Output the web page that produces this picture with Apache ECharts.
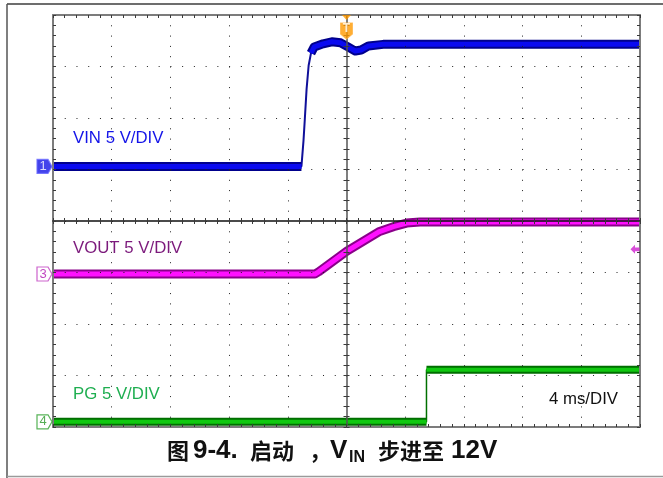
<!DOCTYPE html>
<html><head><meta charset="utf-8">
<script src="https://cdn.jsdelivr.net/npm/echarts@6/dist/echarts.min.js"></script>
<style>html,body{margin:0;padding:0;background:#fff}#c{width:663px;height:478px}</style>
</head><body><div id="c"></div>
<script>
// ---- scope settings ----
const voltsPerDiv = 5;
const timeRangeMs = [-20, 20];   // 4 ms/DIV, 10 divisions
const divRange = [-4, 4];        // 8 vertical divisions
// channel ground positions (divisions from screen centre)
const ch1Pos = 1.06;   // VIN
const ch3Pos = -1.03;  // VOUT
const ch4Pos = -3.90;  // PG
const ch3TriggerLevelV = 2.4;

// ---- traces (time in ms, value in volts) ----
const vinTimeMs = [-20, -3.07, -2.93, -2.84, -2.72, -2.58, -2.42, -2.2, -1.6, -1.0, -0.4, 0.1, 0.6, 1.0, 1.5, 2.5, 20];
const vinVolts  = [0, 0, 2.5, 4.6, 7.5, 9.8, 11.0, 11.6, 11.9, 12.1, 12.0, 11.6, 11.2, 11.3, 11.7, 11.85, 11.85];

const voutTimeMs = [-20, -2.15, -1.9, 0, 2.2, 3.2, 4.1, 5.0, 20];
const voutVolts  = [0, 0, 0.22, 2.2, 4.1, 4.6, 4.95, 5.05, 5.05];

const pgTimeMs = [-20, 5.45, 5.45, 20];
const pgVolts  = [0, 0, 5.05, 5.05];

// ---- texts ----
const labelVin = 'VIN 5 V/DIV';
const labelVout = 'VOUT 5 V/DIV';
const labelPg = 'PG 5 V/DIV';
const labelTime = '4 ms/DIV';
const titleParts = ['图', '9-4.', '启动', '，', 'V', 'IN', '步进至', '12V'];

const steepVperMs = 6;

function toDiv(ts, vs, pos) { return ts.map((t, i) => [t, pos + vs[i] / voltsPerDiv]); }
function thickParts(pts) {
  const out = [];
  for (let i = 0; i < pts.length - 1; i++) {
    const a = pts[i], b = pts[i + 1];
    const dv = Math.abs(b[1] - a[1]) * voltsPerDiv, dt = Math.abs(b[0] - a[0]);
    if (dv > steepVperMs * dt) { if (out.length && out[out.length - 1][0] !== null) out.push([null, null]); continue; }
    const last = out[out.length - 1];
    if (!last || last[0] !== a[0] || last[1] !== a[1]) out.push(a);
    out.push(b);
  }
  return out;
}

const vinPts = toDiv(vinTimeMs, vinVolts, ch1Pos);
const voutPts = toDiv(voutTimeMs, voutVolts, ch3Pos);
const pgPts = toDiv(pgTimeMs, pgVolts, ch4Pos);

function trace(pts, outer, inner, thin, wOuter, wInner, wThin) {
  const base = {type: 'line', xAxisIndex: 0, yAxisIndex: 0, showSymbol: false, silent: true, animation: false, connectNulls: false};
  return [
    Object.assign({}, base, {data: pts, z: 2, lineStyle: {color: thin, width: wThin}}),
    Object.assign({}, base, {data: thickParts(pts), z: 2, lineStyle: {color: outer, width: wOuter, cap: 'butt', join: 'round'}}),
    Object.assign({}, base, {data: thickParts(pts), z: 2, lineStyle: {color: inner, width: wInner, cap: 'butt', join: 'round'}})
  ];
}

const tickCol = '#3a3a3a';
function xAx(o) {
  return Object.assign({type: 'value', min: timeRangeMs[0], max: timeRangeMs[1], interval: 4, z: 3,
    axisLabel: {show: false}, splitLine: {show: false}, axisTick: {show: false}, minorTick: {show: false}}, o);
}
function yAx(o) {
  return Object.assign({type: 'value', min: divRange[0], max: divRange[1], interval: 1, z: 3,
    axisLabel: {show: false}, splitLine: {show: false}, axisTick: {show: false}, minorTick: {show: false}}, o);
}
const ticksIn = {show: true, inside: true, length: 3, lineStyle: {color: tickCol, width: 1}};
const ticksOut = {show: true, inside: false, length: 3, lineStyle: {color: tickCol, width: 1}};
const minor = {show: true, splitNumber: 5, length: 3, lineStyle: {color: tickCol, width: 1}};

const chMarker = (pos, xVal, txt, fill, stroke, txtCol) => ({
  type: 'scatter', xAxisIndex: 0, yAxisIndex: 0, clip: false, silent: true, animation: false, z: 10,
  data: [[xVal, pos]],
  symbol: 'path://M0,0 L11,0 L15,7 L11,14 L0,14 Z', symbolSize: [15, 14], symbolOffset: [-8.5, 0],
  itemStyle: {color: fill, borderColor: stroke, borderWidth: 1.2},
  label: {show: true, position: 'inside', formatter: txt, color: txtCol, fontSize: 13, fontFamily: 'Liberation Sans', offset: [-1.5, 0]}
});

const cjk = (w) => ({fontSize: 22, fontWeight: 'bold', fontFamily: '"Noto Sans CJK SC"', lineHeight: 30, width: w, align: 'left', fill: '#111'});
const lat = (w, s) => ({fontSize: s, fontWeight: 'bold', fontFamily: '"Liberation Sans"', lineHeight: 30, width: w, align: 'left', fill: '#111'});
const titleRich = {
  a: cjk(26), b: lat(57, 26), c: cjk(59), d: cjk(21), e: lat(19, 26),
  sub: {fontSize: 16, fontWeight: 'bold', fontFamily: '"Liberation Sans"', lineHeight: 18, width: 29, align: 'left', verticalAlign: 'bottom', fill: '#111'},
  f: cjk(73), g: lat(60, 26)
};
const titleKeys = ['a', 'b', 'c', 'd', 'e', 'sub', 'f', 'g'];
const titleText = titleParts.map((p, i) => '{' + titleKeys[i] + '|' + p + '}').join('');

const chart = echarts.init(document.getElementById('c'), null, {renderer: 'canvas'});
chart.setOption({
  backgroundColor: '#ffffff',
  animation: false,
  grid: {left: 53, right: 23, top: 15, bottom: 51, show: false},
  xAxis: [
    xAx({position: 'bottom', axisLine: {show: true, onZero: false, lineStyle: {color: '#7c7c7c', width: 2}},
         axisTick: ticksIn, minorTick: minor,
         splitLine: {show: true, lineStyle: {color: '#222', width: 1, type: [1, 9.3]}}}),
    xAx({position: 'top', axisLine: {show: true, onZero: false, lineStyle: {color: '#7c7c7c', width: 2}},
         axisTick: ticksIn, minorTick: minor}),
    xAx({position: 'bottom', axisLine: {show: true, onZero: true, onZeroAxisIndex: 0, lineStyle: {color: '#111', width: 1.5}},
         axisTick: ticksIn, minorTick: minor}),
    xAx({position: 'bottom', axisLine: {show: false, onZero: true, onZeroAxisIndex: 0},
         axisTick: ticksOut, minorTick: minor})
  ],
  yAxis: [
    yAx({position: 'left', axisLine: {show: true, onZero: false, lineStyle: {color: '#7c7c7c', width: 2}},
         axisTick: ticksIn, minorTick: minor,
         splitLine: {show: true, lineStyle: {color: '#222', width: 1, type: [1, 10.74]}}}),
    yAx({position: 'right', axisLine: {show: true, onZero: false, lineStyle: {color: '#7c7c7c', width: 2}},
         axisTick: ticksIn, minorTick: minor}),
    yAx({position: 'left', axisLine: {show: true, onZero: true, onZeroAxisIndex: 0, lineStyle: {color: '#555', width: 1.5}},
         axisTick: ticksIn, minorTick: minor}),
    yAx({position: 'left', axisLine: {show: false, onZero: true, onZeroAxisIndex: 0},
         axisTick: ticksOut, minorTick: minor})
  ],
  series: [].concat(
    trace(vinPts, '#00008c', '#0a0af0', '#10109a', 9, 5, 2),
    trace(voutPts, '#8a008a', '#ff10ff', '#8a008a', 9, 5, 2),
    trace(pgPts, '#006e00', '#10c810', '#007000', 8, 4, 1.5),
    [
      chMarker(ch1Pos, timeRangeMs[0], '1', '#1414e6', '#6a6aff', '#ffffff'),
      chMarker(ch3Pos, timeRangeMs[0], '3', '#ffffff', '#c040c0', '#b018b0'),
      chMarker(ch4Pos, timeRangeMs[0], '4', '#ffffff', '#30a030', '#2a9a2a'),
      {type: 'scatter', xAxisIndex: 0, yAxisIndex: 0, clip: false, silent: true, animation: false, z: 10,
       data: [[0, divRange[1]]], symbol: 'path://M0,0 L12,0 L12,11 L6,16 L0,11 Z', symbolSize: [12, 16], symbolOffset: [0, 16],
       itemStyle: {color: '#ff9a00', borderColor: '#ffb040', borderWidth: 1},
       label: {show: true, position: 'inside', formatter: 'T', color: '#fff', fontSize: 12, fontWeight: 'bold', fontFamily: 'Liberation Sans', offset: [0, -2]}},
      {type: 'scatter', xAxisIndex: 0, yAxisIndex: 0, clip: false, silent: true, animation: false, z: 10,
       data: [[0, divRange[1]]], symbol: 'path://M0,0 L10,0 L5,6 Z', symbolSize: [9, 5], symbolOffset: [0, 2.5],
       itemStyle: {color: '#ff9a00'}},
      {type: 'scatter', xAxisIndex: 0, yAxisIndex: 0, clip: false, silent: true, animation: false, z: 10,
       data: [[timeRangeMs[1], ch3Pos + ch3TriggerLevelV / voltsPerDiv]],
       symbol: 'path://M0,5 L5,0 L5,3 L10,3 L10,7 L5,7 L5,10 Z', symbolSize: [9, 9], symbolOffset: [-5, 0],
       itemStyle: {color: '#d020d0'}}
    ]
  ),
  graphic: [
    {type: 'line', shape: {x1: 7, y1: 4, x2: 663, y2: 4}, style: {stroke: '#3c3c3c', lineWidth: 1.5}, silent: true},
    {type: 'line', shape: {x1: 7, y1: 4, x2: 7, y2: 478}, style: {stroke: '#555', lineWidth: 1.5}, silent: true},
    {type: 'line', shape: {x1: 7, y1: 476.5, x2: 663, y2: 476.5}, style: {stroke: '#9a9a9a', lineWidth: 1.5}, silent: true},
    {type: 'text', x: 73, y: 138, z: 20, style: {text: labelVin, font: '16.8px "Liberation Sans"', fill: '#1414e8', verticalAlign: 'middle'}},
    {type: 'text', x: 73, y: 248, z: 20, style: {text: labelVout, font: '16.8px "Liberation Sans"', fill: '#7c1a7c', verticalAlign: 'middle'}},
    {type: 'text', x: 73, y: 394, z: 20, style: {text: labelPg, font: '16.8px "Liberation Sans"', fill: '#1eae50', verticalAlign: 'middle'}},
    {type: 'text', x: 549, y: 399, z: 20, style: {text: labelTime, font: '16.8px "Liberation Sans"', fill: '#111', verticalAlign: 'middle'}},
    {type: 'text', x: 167, y: 451, z: 20, style: {
      text: titleText, align: 'left', verticalAlign: 'middle',
      font: 'bold 24px "Liberation Sans", "Noto Sans CJK SC"', fill: '#111',
      rich: titleRich
    }}
  ]
});
</script></body></html>
